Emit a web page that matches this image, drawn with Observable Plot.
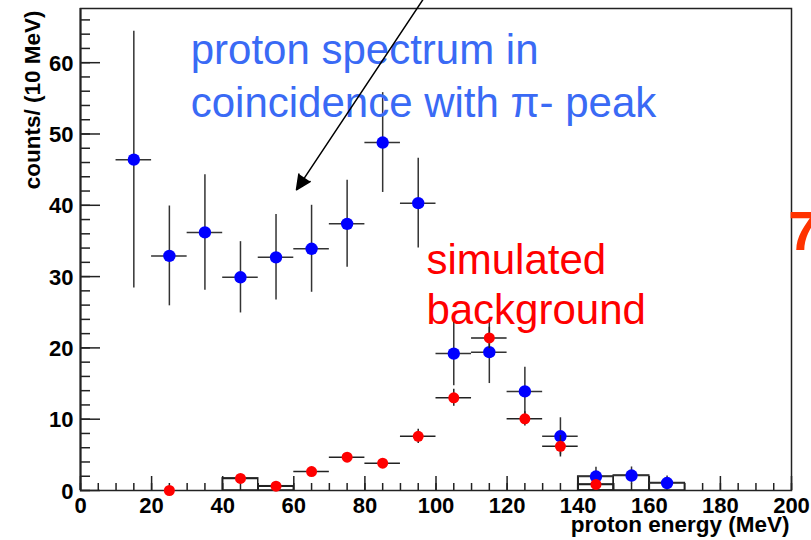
<!DOCTYPE html>
<html><head><meta charset="utf-8">
<script src="https://cdn.jsdelivr.net/npm/d3@7"></script>
<script src="https://cdn.jsdelivr.net/npm/@observablehq/plot@0.6"></script>
<style>html,body{margin:0;padding:0;background:#fff}</style>
</head><body><div id="chart"></div>
<script>
// ---- data ----
const binWidth = 10;
const blueCenters = [15, 25, 35, 45, 55, 65, 75, 85, 95, 105, 115, 125, 135, 145, 155, 165];
const blueCounts  = [46.4, 32.9, 36.2, 29.9, 32.7, 33.9, 37.4, 48.8, 40.3, 19.2, 19.4, 13.9, 7.6, 1.96, 2.1, 1.05];
const blueErrors  = [18.0, 7.0, 8.1, 5.0, 6.0, 6.1, 6.1, 7.0, 6.3, 4.5, 4.4, 3.4, 2.6, 1.3, 1.2, 1.0];
const redCenters  = [25, 45, 55, 65, 75, 85, 95, 105, 115, 125, 135, 145];
const redCounts   = [0, 1.7, 0.6, 2.66, 4.67, 3.83, 7.6, 13.0, 21.4, 10.05, 6.2, 0.85];
const redErrors   = [0, 0.5, 0.3, 0.6, 0.6, 0.6, 1.0, 1.2, 1.5, 1.0, 1.5, 0.4];
const blueBoxBins = [145, 155, 165];
const redBoxBins  = [45, 55, 145];
const xTicks = [0, 20, 40, 60, 80, 100, 120, 140, 160, 180, 200];
const yTicks = [0, 10, 20, 30, 40, 50, 60];
const xMinorTicks = d3.range(0, 201, 5);
const yMinorTicks = d3.range(0, 67, 2);
const xTitle = "proton energy (MeV)";
const yTitle = "counts/ (10 MeV)";
const blueNote = "proton spectrum in\ncoincidence with π- peak";
const redNote = "simulated\nbackground";
const sideNote = "7";

// ---- derived tables ----
const blue = blueCenters.map((x, i) => ({x, y: blueCounts[i], e: blueErrors[i]}));
const red = redCenters.map((x, i) => ({x, y: redCounts[i], e: redErrors[i]}));
const boxes = [
  ...blue.filter(d => blueBoxBins.includes(d.x)),
  ...red.filter(d => redBoxBins.includes(d.x))
];

const W = 811, H = 540, ML = 80, MR = 20, MT = 8, MB = 50;
const PW = W - ML - MR, PH = H - MT - MB;
const axisColor = "#222";
const font = "'Liberation Sans', Arial, Helvetica, sans-serif";

const chart = Plot.plot({
  width: W, height: H,
  marginLeft: ML, marginRight: MR, marginTop: MT, marginBottom: MB,
  x: {domain: [0, 200], axis: null},
  y: {domain: [0, 67.6], axis: null},
  style: {fontFamily: font, background: "white", overflow: "visible"},
  marks: [
    // frame and inward ticks
    Plot.frame({stroke: axisColor, strokeWidth: 1.5}),
    Plot.ruleX([0], {stroke: axisColor, strokeWidth: 2}),
    Plot.tickY(yTicks, {y: d => d, insetRight: PW - 20, stroke: axisColor, strokeWidth: 1.5}),
    Plot.tickY(yMinorTicks, {y: d => d, insetRight: PW - 10, stroke: axisColor, strokeWidth: 1.5}),
    Plot.tickX(xTicks, {x: d => d, insetTop: PH - 14, stroke: axisColor, strokeWidth: 1.5}),
    Plot.tickX(xMinorTicks, {x: d => d, insetTop: PH - 7, stroke: axisColor, strokeWidth: 1.5}),
    // tick labels
    Plot.text(yTicks, {y: d => d, text: d => String(d), frameAnchor: "left", dx: -7, dy: 1, textAnchor: "end",
      fontSize: 22, fontWeight: "bold", fill: "black"}),
    Plot.text(xTicks, {x: d => d, text: d => String(d), frameAnchor: "bottom", lineAnchor: "top", dy: 7,
      fontSize: 22, fontWeight: "bold", fill: "black"}),
    // axis titles
    Plot.text([xTitle], {text: d => d, frameAnchor: "bottom-right", textAnchor: "end", lineAnchor: "bottom",
      dx: -2, dy: 41, fontSize: 22.5, fontWeight: "bold", fill: "black"}),
    Plot.text([yTitle], {text: d => d, frameAnchor: "top-left", textAnchor: "end", rotate: -90,
      dx: -56, dy: 2, fontSize: 22.5, fontWeight: "bold", fill: "black"}),
    // histogram boxes at low counts
    Plot.rect(boxes, {x1: d => d.x - binWidth / 2, x2: d => d.x + binWidth / 2, y1: 0, y2: "y",
      fill: "none", stroke: axisColor, strokeWidth: 1.5}),
    // blue data
    Plot.ruleX(blue, {x: "x", y1: d => d.y - d.e, y2: d => d.y + d.e, stroke: "#333", strokeWidth: 1.5}),
    Plot.ruleY(blue, {y: "y", x1: d => d.x - binWidth / 2, x2: d => d.x + binWidth / 2, stroke: "#333", strokeWidth: 1.5}),
    Plot.dot(blue, {x: "x", y: "y", r: 6.2, fill: "#0000ff", stroke: "none"}),
    // red background
    Plot.ruleX(red, {x: "x", y1: d => d.y - d.e, y2: d => d.y + d.e, stroke: "#222", strokeWidth: 1.5}),
    Plot.ruleY(red.filter(d => d.y > 0), {y: "y", x1: d => d.x - binWidth / 2, x2: d => d.x + binWidth / 2, stroke: "#222", strokeWidth: 1.5}),
    Plot.dot(red, {x: "x", y: "y", r: 5.5, fill: "#ff0000", stroke: "none"}),
    // annotations
    Plot.text([blueNote], {text: d => d, x: 31, y: 52.35, textAnchor: "start", lineAnchor: "bottom",
      lineHeight: 1.27, fontSize: 42, fill: "#3a6af5"}),
    Plot.text([redNote], {text: d => d, x: 97.3, y: 23.38, textAnchor: "start", lineAnchor: "bottom",
      lineHeight: 1.19, fontSize: 42, fill: "#ff0000"}),
    Plot.text([sideNote], {text: d => d, x: 199.1, y: 33.8, textAnchor: "start", lineAnchor: "bottom",
      fontSize: 56, fontWeight: "bold", fill: "#ff3300"}),
    Plot.arrow([{x1: 97.2, y1: 69.5, x2: 60.75, y2: 42.17}], {x1: "x1", y1: "y1", x2: "x2", y2: "y2",
      stroke: "black", fill: "black", strokeWidth: 1.5, headLength: 16, headAngle: 50})
  ]
});
document.getElementById("chart").appendChild(chart);
</script>
</body></html>
